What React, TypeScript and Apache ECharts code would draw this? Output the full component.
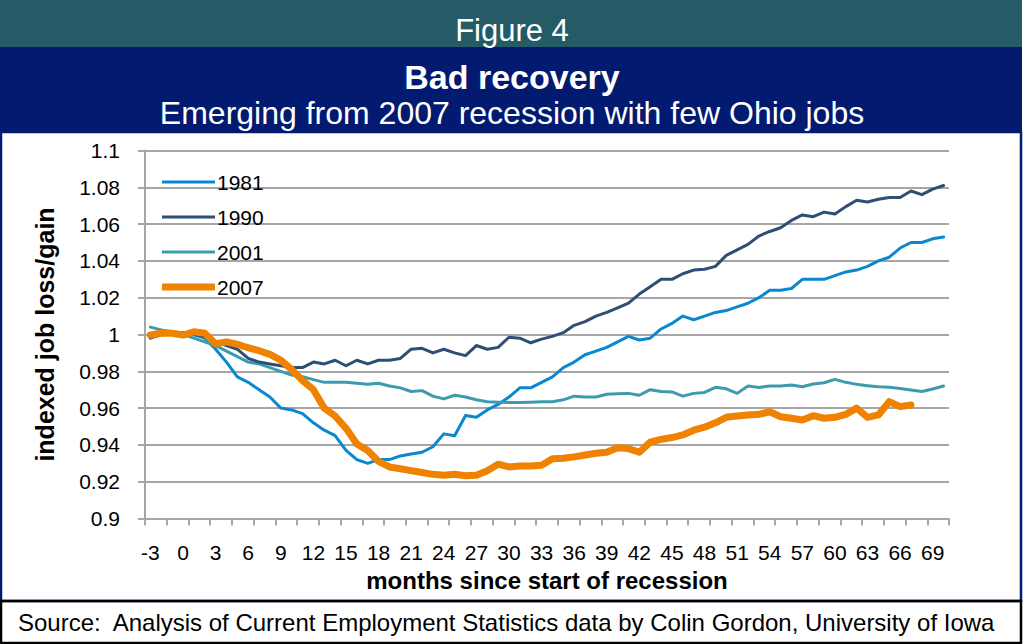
import React, { useEffect, useRef } from "react";
import * as echarts from "echarts";

const months: number[] = [];
for (let m = -3; m <= 70; m++) months.push(m);

const s1981 = [
  0.999, 1.0, 1.001, 1.001, 1.0, 0.998, 0.992, 0.985, 0.977, 0.974,
  0.97, 0.966, 0.96, 0.959, 0.957, 0.952, 0.948, 0.945, 0.937, 0.932,
  0.93, 0.932, 0.932, 0.934, 0.935, 0.936, 0.939, 0.946, 0.945, 0.956,
  0.955, 0.959, 0.962, 0.966, 0.971, 0.971, 0.974, 0.977, 0.982, 0.985,
  0.989, 0.991, 0.993, 0.996, 0.999, 0.997, 0.998, 1.003, 1.006, 1.01,
  1.008, 1.01, 1.012, 1.013, 1.015, 1.017, 1.02, 1.024, 1.024, 1.025,
  1.03, 1.03, 1.03, 1.032, 1.034, 1.035, 1.037, 1.04, 1.042, 1.047,
  1.05, 1.05, 1.052, 1.053,
];

const s1990 = [
  0.998, 1.0, 1.001, 1.001, 1.0, 0.999, 0.996, 0.994, 0.992, 0.987,
  0.985, 0.984, 0.983, 0.982, 0.982, 0.985, 0.984, 0.986, 0.983, 0.986,
  0.984, 0.986, 0.986, 0.987, 0.992, 0.9925, 0.99, 0.992, 0.99, 0.9885,
  0.994, 0.992, 0.993, 0.9985, 0.998, 0.9955, 0.9975, 0.999, 1.001, 1.005,
  1.007, 1.01, 1.012, 1.0145, 1.017, 1.022, 1.026, 1.03, 1.03, 1.033,
  1.035, 1.0355, 1.037, 1.043, 1.046, 1.049, 1.0535, 1.056, 1.058, 1.062,
  1.065, 1.064, 1.0665, 1.0655, 1.0695, 1.073, 1.072, 1.0735, 1.0745, 1.0745,
  1.078, 1.076, 1.079, 1.081,
];

const s2001 = [
  1.004, 1.0025, 1.0015, 1.0, 0.998, 0.996, 0.994, 0.991, 0.988, 0.985,
  0.984, 0.982, 0.98, 0.978, 0.977, 0.9755, 0.974, 0.974, 0.974, 0.9735,
  0.973, 0.9735, 0.972, 0.971, 0.969, 0.9695, 0.9665, 0.965, 0.967, 0.966,
  0.9645, 0.9635, 0.9632, 0.963, 0.963, 0.9632, 0.9635, 0.9635, 0.9645, 0.9665,
  0.966, 0.966, 0.9675, 0.9678, 0.968, 0.967, 0.97, 0.969, 0.9688, 0.9665,
  0.968, 0.9685, 0.9713, 0.9705, 0.968, 0.972, 0.9712, 0.972, 0.972, 0.9726,
  0.9716, 0.9731, 0.9738, 0.9756, 0.974, 0.9729, 0.9722, 0.9716, 0.9713, 0.9707,
  0.9698, 0.969, 0.9704, 0.972,
];

const s2007 = [
  0.9997, 1.0007, 1.0007, 0.9997, 1.0015, 1.0007, 0.995, 0.996, 0.9946, 0.9928,
  0.9912, 0.9892, 0.986, 0.981, 0.975, 0.97, 0.96, 0.9557, 0.949, 0.9405,
  0.937, 0.931, 0.928, 0.927, 0.926, 0.925, 0.924, 0.9235, 0.924, 0.9232,
  0.9235, 0.926, 0.9295, 0.928, 0.9285, 0.9285, 0.929, 0.9325, 0.9327, 0.9335,
  0.9345, 0.9355, 0.936, 0.9385, 0.938, 0.936, 0.9415, 0.943, 0.944, 0.9454,
  0.948, 0.9496, 0.952, 0.955, 0.9557, 0.9563, 0.9566, 0.958, 0.9553, 0.9545,
  0.9535, 0.9559, 0.9545, 0.955, 0.9566, 0.96, 0.955, 0.9563, 0.9635, 0.9608,
  0.9617,
];

const seriesNames = ["1981", "1990", "2001", "2007"];
const seriesColors = ["#0a87d1", "#2e4e75", "#3d9bb0", "#ef8200"];
const seriesWidths = [3, 3, 3, 7];
const seriesData = [s1981, s1990, s2001, s2007];

const yTicks = { min: 0.9, max: 1.1, step: 0.02 };

const figureLabel = "Figure 4";
const titleText = "Bad recovery";
const subtitleText = "Emerging from 2007 recession with few Ohio jobs";
const sourceText =
  "Source:  Analysis of Current Employment Statistics data by Colin Gordon, University of Iowa";
const xName = "months since start of recession";
const yName = "indexed job loss/gain";

const NARROW = "'Liberation Sans Narrow', 'Arial Narrow', 'Liberation Sans', Arial, sans-serif";
const SANS = "'Liberation Sans', Arial, sans-serif";

export default function App() {
  const ref = useRef<HTMLDivElement>(null);
  useEffect(() => {
    if (!ref.current) return;
    const chart = echarts.init(ref.current, undefined, { renderer: "svg" });
    const option: any = {
      animation: false,
      backgroundColor: "#ffffff",
      textStyle: { fontFamily: NARROW },
      grid: { left: 145, right: 75, top: 150.5, bottom: 125.5, containLabel: false },
      legend: {
        orient: "vertical",
        left: 157,
        top: 163,
        itemWidth: 53,
        itemHeight: 14,
        itemGap: 7,
        textStyle: { fontFamily: NARROW, fontSize: 21, color: "#000", lineHeight: 28, padding: [0, 0, 0, -3] },
        data: seriesNames.map((n, i) => ({
          name: n,
          icon: "path://M0,0 L53,0 L53," + seriesWidths[i] + " L0," + seriesWidths[i] + " Z",
        })),
      },
      xAxis: {
        type: "category",
        data: months.map(String),
        boundaryGap: true,
        name: xName,
        nameLocation: "middle",
        nameGap: 50,
        nameTextStyle: { fontFamily: NARROW, fontSize: 24, fontWeight: "bold", color: "#000" },
        axisLine: { show: true, lineStyle: { color: "#a6a6a6", width: 2 } },
        axisTick: { show: true, interval: 1, length: 7, lineStyle: { color: "#a6a6a6", width: 2 } },
        axisLabel: { interval: 2, margin: 23, fontSize: 21, color: "#000", fontFamily: NARROW },
        splitLine: { show: false },
      },
      yAxis: {
        type: "value",
        min: yTicks.min,
        max: yTicks.max,
        interval: yTicks.step,
        name: yName,
        nameLocation: "middle",
        nameGap: 88,
        nameRotate: 90,
        nameTextStyle: { fontFamily: NARROW, fontSize: 25, fontWeight: "bold", color: "#000" },
        axisLine: { show: true, lineStyle: { color: "#a6a6a6", width: 2 } },
        axisTick: { show: true, length: 7, lineStyle: { color: "#a6a6a6", width: 2 } },
        axisLabel: {
          margin: 25,
          fontSize: 21,
          color: "#000",
          fontFamily: NARROW,
          formatter: (v: number) => String(parseFloat(v.toFixed(2))),
        },
        splitLine: { show: true, lineStyle: { color: "#a6a6a6", width: 2 } },
      },
      series: seriesNames.map((n, i) => ({
        name: n,
        type: "line",
        data: seriesData[i],
        symbol: "none",
        showSymbol: false,
        z: i === 3 ? 5 : 2 + (i === 1 ? 0.5 : 0),
        lineStyle: { color: seriesColors[i], width: seriesWidths[i], cap: "round", join: "round" },
        itemStyle: { color: seriesColors[i] },
      })),
      graphic: [
        { type: "rect", shape: { x: 0, y: 0, width: 1022, height: 47 }, style: { fill: "#245b67" }, z: -10 },
        { type: "rect", shape: { x: 0, y: 47, width: 1022, height: 85 }, style: { fill: "#021a70" }, z: -10 },
        { type: "rect", shape: { x: 1, y: 132, width: 1020, height: 469 }, style: { fill: "none", stroke: "#021a70", lineWidth: 2.5 }, z: -9 },
        { type: "rect", shape: { x: 1, y: 601, width: 1020, height: 42 }, style: { fill: "none", stroke: "#000", lineWidth: 2.5 }, z: -9 },
        {
          type: "text", x: 512, y: 30,
          style: { text: figureLabel, fill: "#fff", font: "31px " + SANS, align: "center", verticalAlign: "middle" },
        },
        {
          type: "text", x: 512, y: 77,
          style: { text: titleText, fill: "#fff", font: "bold 34px " + SANS, align: "center", verticalAlign: "middle" },
        },
        {
          type: "text", x: 512, y: 113,
          style: { text: subtitleText, fill: "#fff", font: "32px " + SANS, align: "center", verticalAlign: "middle" },
        },
        {
          type: "text", x: 18, y: 622,
          style: { text: sourceText, fill: "#000", font: "24px " + SANS, align: "left", verticalAlign: "middle" },
        },
      ],
    };
    chart.setOption(option);
    return () => chart.dispose();
  }, []);
  return (
    <div
      ref={ref}
      style={{ position: "fixed", left: 0, top: 0, width: 1024, height: 644, background: "#fff" }}
    />
  );
}
